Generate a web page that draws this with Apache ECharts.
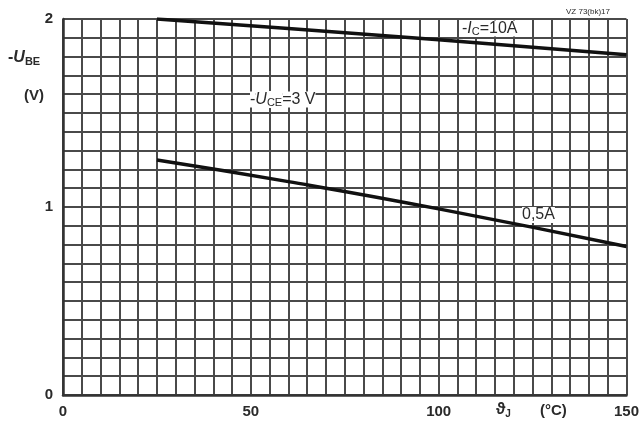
<!DOCTYPE html>
<html>
<head>
<meta charset="utf-8">
<script src="https://cdn.jsdelivr.net/npm/echarts@6/dist/echarts.min.js"></script>
<style>
html,body{margin:0;padding:0;background:#fff;}
#c{width:642px;height:428px;}
</style>
</head>
<body>
<div id="c"></div>
<script>
// Data
const xTickLabels = [0, 50, 100, 150];
const yTickLabels = [0, 1, 2];
const ic10A = [[25, 2.0], [60, 1.95], [100, 1.89], [150, 1.81]];
const ic05A = [[25, 1.25], [60, 1.135], [100, 0.99], [150, 0.79]];

const chart = echarts.init(document.getElementById('c'), null, {renderer: 'canvas'});
const gridColor = '#4a4a4a';
const textColor = '#2a2a2a';
const font = '"Liberation Sans", "DejaVu Sans", sans-serif';

function near(v, arr) {
  for (const t of arr) if (Math.abs(v - t) < 1e-6) return String(t);
  return '';
}

chart.setOption({
  animation: false,
  backgroundColor: '#fff',
  grid: {left: 63, right: 14, top: 19, bottom: 33, show: false},
  xAxis: {
    type: 'value', min: 0, max: 150, interval: 5,
    axisLine: {show: true, lineStyle: {color: '#333', width: 2.5}},
    axisTick: {show: false},
    splitLine: {show: true, lineStyle: {color: gridColor, width: 2}},
    axisLabel: {
      margin: 9, color: textColor, fontSize: 15, fontWeight: 'bold', fontFamily: font,
      formatter: v => near(v, xTickLabels)
    }
  },
  yAxis: {
    type: 'value', min: 0, max: 2, interval: 0.1,
    axisLine: {show: true, lineStyle: {color: '#333', width: 2.5}},
    axisTick: {show: false},
    splitLine: {show: true, lineStyle: {color: gridColor, width: 2}},
    axisLabel: {
      margin: 10, color: textColor, fontSize: 15, fontWeight: 'bold', fontFamily: font,
      formatter: v => near(v, yTickLabels)
    }
  },
  series: [
    {type: 'line', data: ic10A, showSymbol: false, smooth: false,
     lineStyle: {color: '#111', width: 3.5}, z: 5},
    {type: 'line', data: ic05A, showSymbol: false, smooth: true,
     lineStyle: {color: '#111', width: 3.5}, z: 5}
  ],
  graphic: [
    {type: 'text', left: 8, top: 50, style: {
      rich: {
        a: {fontSize: 16, fontWeight: 'bold', fontFamily: font, fill: textColor},
        i: {fontSize: 16, fontWeight: 'bold', fontStyle: 'italic', fontFamily: font, fill: textColor},
        s: {fontSize: 11, fontWeight: 'bold', fontFamily: font, fill: textColor, padding: [8, 0, 0, 0]}
      },
      text: '{a|-}{i|U}{s|BE}'
    }},
    {type: 'text', left: 24, top: 88, style: {text: '(V)', fontSize: 15, fontWeight: 'bold', fontFamily: font, fill: textColor}},
    {type: 'text', left: 496, top: 402, style: {
      rich: {
        a: {fontSize: 16, fontFamily: font, fill: textColor, fontWeight: 'bold'},
        s: {fontSize: 10, fontFamily: font, fill: textColor, fontWeight: 'bold', padding: [8, 0, 0, 0]}
      },
      text: '{a|ϑ}{s|J}'
    }},
    {type: 'text', left: 540, top: 403, style: {text: '(°C)', fontSize: 15, fontWeight: 'bold', fontFamily: font, fill: textColor}},
    {type: 'text', left: 566, top: 8, style: {text: 'VZ 73(bk)17', fontSize: 8, fontFamily: font, fill: textColor}},
    {type: 'text', left: 462, top: 20, z: 10, style: {
      rich: {
        a: {fontSize: 16, fontFamily: font, fill: textColor, backgroundColor: '#fff'},
        i: {fontSize: 16, fontStyle: 'italic', fontFamily: font, fill: textColor, backgroundColor: '#fff'},
        s: {fontSize: 11, fontFamily: font, fill: textColor, padding: [6, 0, 0, 0], backgroundColor: '#fff'}
      },
      text: '{a|-}{i|I}{s|C}{a|=10A}'
    }},
    {type: 'text', left: 250, top: 91, z: 10, style: {
      rich: {
        a: {fontSize: 16, fontFamily: font, fill: textColor, backgroundColor: '#fff'},
        i: {fontSize: 16, fontStyle: 'italic', fontFamily: font, fill: textColor, backgroundColor: '#fff'},
        s: {fontSize: 11, fontFamily: font, fill: textColor, padding: [6, 0, 0, 0], backgroundColor: '#fff'}
      },
      text: '{a|-}{i|U}{s|CE}{a|=3 V}'
    }},
    {type: 'text', left: 522, top: 207, z: 10, style: {
      text: '0,5A', fontSize: 16, fontFamily: font, fill: textColor, backgroundColor: '#fff'
    }}
  ]
});
</script>
</body>
</html>
